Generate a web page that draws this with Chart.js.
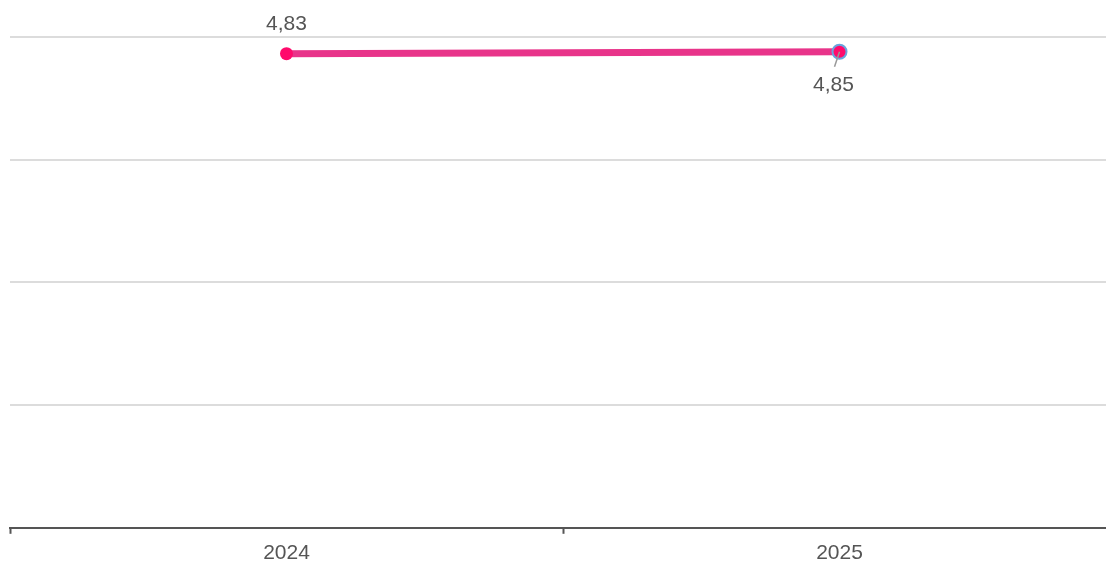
<!DOCTYPE html>
<html>
<head>
<meta charset="utf-8">
<script src="https://cdn.jsdelivr.net/npm/chart.js@4"></script>
<style>
  html, body { margin: 0; padding: 0; background: #fff; overflow: hidden; }
  #wrap { width: 1106px; height: 561px; overflow: hidden; }
</style>
</head>
<body>
<div id="wrap"><canvas id="lineChart" width="1116" height="561"></canvas></div>
<script>
const years = ['2024', '2025'];
const values = [4.83, 4.85];
const valueLabels = ['4,83', '4,85'];
const labelBelow = [false, true];

// draws the value labels (and the little leader line for the one below)
const valueLabelPlugin = {
  id: 'valueLabels',
  afterDatasetsDraw(chart) {
    const ctx = chart.ctx;
    const meta = chart.getDatasetMeta(0);
    ctx.save();
    ctx.font = '21px "Liberation Sans", Arial, sans-serif';
    ctx.fillStyle = '#555';
    ctx.textAlign = 'center';
    ctx.textBaseline = 'middle';
    meta.data.forEach((pt, i) => {
      if (labelBelow[i]) {
        ctx.strokeStyle = '#999';
        ctx.lineWidth = 1.5;
        ctx.beginPath();
        ctx.moveTo(pt.x, pt.y);
        ctx.lineTo(pt.x - 5, pt.y + 15);
        ctx.stroke();
        ctx.fillText(valueLabels[i], pt.x - 6, pt.y + 33);
      } else {
        ctx.fillText(valueLabels[i], pt.x, pt.y - 29);
      }
    });
    ctx.restore();
  }
};

const ctx = document.getElementById('lineChart').getContext('2d');
new Chart(ctx, {
  type: 'line',
  data: {
    labels: years,
    datasets: [{
      data: values,
      borderColor: '#e8348a',
      borderWidth: 7,
      pointRadius: [6.5, 7],
      pointBackgroundColor: '#ff0a6c',
      pointBorderColor: ['#ff0a6c', '#6aa3dc'],
      pointBorderWidth: [0, 2],
      tension: 0
    }]
  },
  options: {
    responsive: false,
    animation: false,
    layout: { autoPadding: false, padding: { left: 10, top: 37, right: 0, bottom: 0 } },
    plugins: {
      legend: { display: false },
      tooltip: { enabled: false }
    },
    scales: {
      x: {
        offset: true,
        grid: {
          offset: true,
          drawOnChartArea: false,
          drawTicks: true,
          tickLength: 6,
          tickWidth: 2,
          tickColor: '#555'
        },
        border: { color: '#555', width: 2 },
        ticks: {
          color: '#555',
          padding: 7,
          font: { size: 21, family: '"Liberation Sans", Arial, sans-serif' }
        },
        afterFit(scale) { scale.height -= 12; }
      },
      y: {
        min: 0,
        max: 5,
        ticks: { display: false, stepSize: 1.25 },
        grid: { color: '#dcdcdc', lineWidth: 2, drawTicks: false },
        border: { display: false },
        afterFit(scale) { scale.width = 0; }
      }
    }
  },
  plugins: [valueLabelPlugin]
});
</script>
</body>
</html>
